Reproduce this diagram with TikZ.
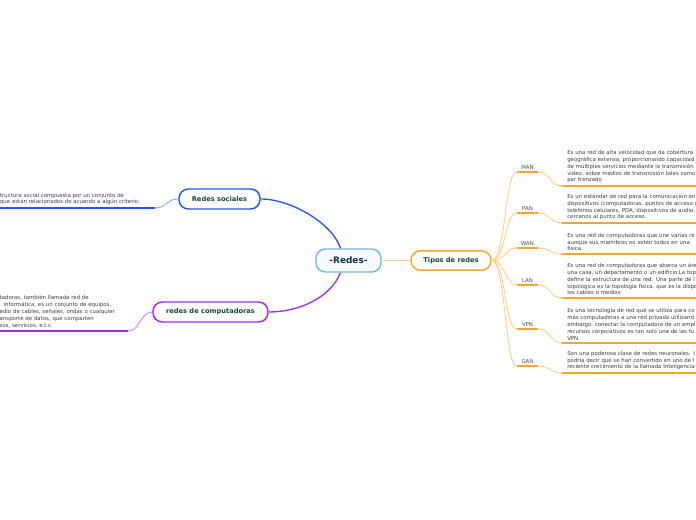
\documentclass[tikz,border=0pt]{standalone}
\usepackage{fontspec}
\setmainfont{DejaVu Sans}
\usepackage{xcolor}
\definecolor{centreblue}{HTML}{78B4E6}
\definecolor{centrefill}{HTML}{F7FBFF}
\definecolor{centretext}{HTML}{1A2B4C}
\definecolor{topicgreen}{HTML}{17453A}
\definecolor{socialblue}{HTML}{2356F0}
\definecolor{sociallight}{HTML}{94AEFF}
\definecolor{netpurple}{HTML}{A32AF0}
\definecolor{netlight}{HTML}{CF90FA}
\definecolor{orangedark}{HTML}{F6A52B}
\definecolor{orangelight}{HTML}{FFD08C}
\definecolor{descgrey}{HTML}{3C3C3C}
\definecolor{labelgrey}{HTML}{505050}

\begin{document}
\begin{tikzpicture}[x=0.75pt,y=-0.75pt, every node/.style={font=\fontsize{4.05}{5.2}\selectfont},
  topic/.style={draw,rounded corners=7pt,line width=1.1pt,fill=white,text=topicgreen,font=\bfseries\fontsize{5}{6}\selectfont,minimum height=15pt,inner sep=0pt},
  kind/.style={text=labelgrey,minimum width=15.75pt,inner sep=1.5pt,anchor=south},
  info/.style={text=descgrey,align=left,inner xsep=3.75pt,inner ysep=2pt,anchor=south west,text width=200pt},
  branch/.style={draw=orangelight,line width=.7pt},
  underbar/.style={draw=orangedark,line width=1.5pt}]
\useasboundingbox (0,0) rectangle (696,520);
\clip (0,0) rectangle (696,520);

% central idea and main topics
\node[topic,draw=centreblue,fill=centrefill,text=centretext,font=\bfseries\fontsize{6.7}{8}\selectfont,minimum width=48.75pt,minimum height=17.25pt] (redes) at (348.5,260.5) {-Redes-};
\node[topic,draw=orangedark,minimum width=60pt,minimum height=14.5pt] (tipos) at (451,260.5) {Tipos de redes};
\node[topic,draw=socialblue,minimum width=60.75pt] (sociales) at (219.5,199) {Redes sociales};
\node[topic,draw=netpurple,minimum width=86.25pt] (compu) at (210.5,312) {redes de computadoras};
\draw[socialblue,line width=1pt] ([xshift=-6pt]redes.north) .. controls +(-8,-25) and +(30,0) .. (sociales.east);
\draw[netpurple,line width=1pt] ([xshift=-6pt]redes.south) .. controls +(-10,25) and +(30,0) .. (compu.east);
\draw[orangelight,line width=1.3pt] (redes.east) -- (tipos.west);

% left side
\node[info,anchor=south east,inner xsep=0pt,text width=116pt] (soctxt) at (155,208) {tructura social compuesta por un conjunto de\\que están relacionados de acuerdo a algún criterio.};
\draw[socialblue,line width=1.5pt] (soctxt.south west) -- (soctxt.south east);
\draw[sociallight,line width=.8pt] (soctxt.south east) .. controls +(12,0) and +(-12,0) .. (sociales.west);
\node[info,anchor=south east,inner xsep=0pt,text width=96pt] (comptxt) at (128,331) {tadoras, también llamada red de\\\hspace*{3pt}informática, es un conjunto de equipos,\\edio de cables, señales, ondas o cualquier\\ansporte de datos, que comparten\\sos, servicios, e.t.c.};
\draw[netpurple,line width=1.5pt] (comptxt.south west) -- (comptxt.south east);
\draw[netlight,line width=.8pt] (comptxt.south east) .. controls +(12,0) and +(-12,0) .. (compu.west);

% tipos de redes
\node[kind] (man) at (527.5,172) {MAN};
\node[info] (mantxt) at (562,186) {Es una red de alta velocidad que da cobertura\\geográfica extensa, proporcionando capacidad\\de múltiples servicios mediante la transmisión\\video, sobre medios de transmisión tales como\\par trenzado};
\node[kind] (pan) at (527.5,213) {PAN};
\node[info] (pantxt) at (562,223) {Es un estándar de red para la comunicación en\\dispositivos (computadoras, puntos de acceso a\\teléfonos celulares, PDA, dispositivos de audio,\\cercanos al punto de acceso.};
\node[kind] (wan) at (527.5,248) {WAN};
\node[info] (wantxt) at (562,254) {Es una red de computadoras que une varias re\\aunque sus miembros no estén todos en una\\física.};
\node[kind] (lan) at (527.5,285) {LAN};
\node[info] (lantxt) at (562,298) {Es una red de computadoras que abarca un áre\\una casa, un departamento o un edificio.La top\\define la estructura de una red. Una parte de l\\topológica es la topología física, que es la dispo\\los cables o medios};
\node[kind] (vpn) at (527.5,329) {VPN};
\node[info] (vpntxt) at (562,343) {Es una tecnología de red que se utiliza para co\\más computadoras a una red privada utilizand\\embargo, conectar la computadora de un empl\\recursos corporativos es tan solo una de las fu\\VPN};
\node[kind] (gan) at (527.5,366) {GAN};
\node[info] (gantxt) at (562,373) {Son una poderosa clase de redes neuronales. I\\podría decir que se han convertido en uno de l\\reciente crecimiento de la llamada Inteligencia};

\draw[branch] (tipos.east) .. controls +(14,0) and +(-12,0) .. (man.south west); \draw[underbar] (man.south west) -- (man.south east);
\draw[branch] (man.south east) .. controls +(12,0) and +(-12,0) .. (mantxt.south west); \draw[underbar] (mantxt.south west) -- (mantxt.south east);
\draw[branch] (tipos.east) .. controls +(14,0) and +(-12,0) .. (pan.south west); \draw[underbar] (pan.south west) -- (pan.south east);
\draw[branch] (pan.south east) .. controls +(12,0) and +(-12,0) .. (pantxt.south west); \draw[underbar] (pantxt.south west) -- (pantxt.south east);
\draw[branch] (tipos.east) .. controls +(14,0) and +(-12,0) .. (wan.south west); \draw[underbar] (wan.south west) -- (wan.south east);
\draw[branch] (wan.south east) .. controls +(12,0) and +(-12,0) .. (wantxt.south west); \draw[underbar] (wantxt.south west) -- (wantxt.south east);
\draw[branch] (tipos.east) .. controls +(14,0) and +(-12,0) .. (lan.south west); \draw[underbar] (lan.south west) -- (lan.south east);
\draw[branch] (lan.south east) .. controls +(12,0) and +(-12,0) .. (lantxt.south west); \draw[underbar] (lantxt.south west) -- (lantxt.south east);
\draw[branch] (tipos.east) .. controls +(14,0) and +(-12,0) .. (vpn.south west); \draw[underbar] (vpn.south west) -- (vpn.south east);
\draw[branch] (vpn.south east) .. controls +(12,0) and +(-12,0) .. (vpntxt.south west); \draw[underbar] (vpntxt.south west) -- (vpntxt.south east);
\draw[branch] (tipos.east) .. controls +(14,0) and +(-12,0) .. (gan.south west); \draw[underbar] (gan.south west) -- (gan.south east);
\draw[branch] (gan.south east) .. controls +(12,0) and +(-12,0) .. (gantxt.south west); \draw[underbar] (gantxt.south west) -- (gantxt.south east);
\end{tikzpicture}
\end{document}
